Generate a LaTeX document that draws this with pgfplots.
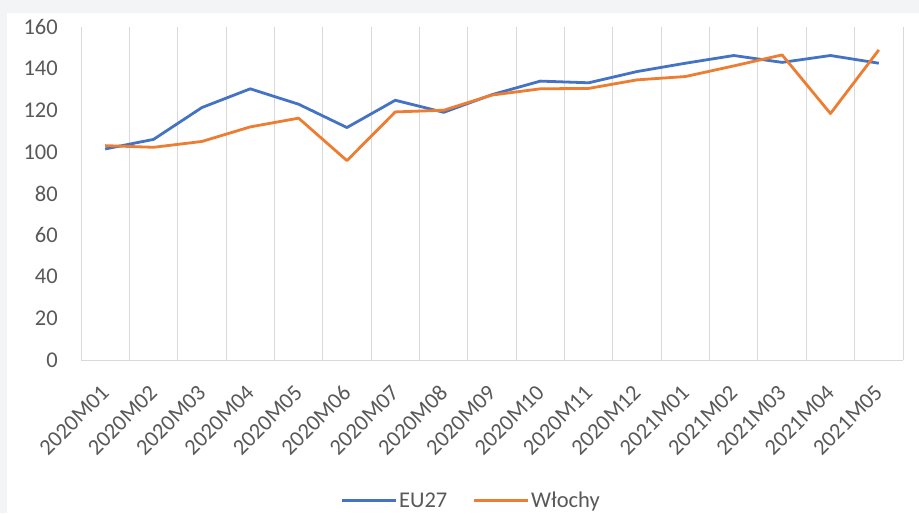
\documentclass[border=0pt]{standalone}
\usepackage{fontspec}
\setmainfont{Carlito}
\usepackage{pgfplots}
\pgfplotsset{compat=1.18}
\definecolor{bgc}{HTML}{F3F4F6}
\definecolor{gridc}{HTML}{D9D9D9}
\definecolor{txt}{HTML}{595959}
\definecolor{eublue}{HTML}{4472C4}
\definecolor{itorange}{HTML}{ED7D31}
\begin{document}
\begin{tikzpicture}[x=1pt,y=1pt]
\fill[bgc] (0,0) rectangle (919,513);
\fill[white] (7,0) rectangle (919,500);
\begin{axis}[
  at={(81pt,153pt)}, anchor=south west,
  scale only axis, width=822pt, height=333pt,
  xmin=0.5, xmax=17.5, ymin=0, ymax=160,
  axis x line*=bottom, axis y line*=left,
  x axis line style={draw=gridc, line width=1pt, -},
  y axis line style={draw=none},
  xtick={1,...,17},
  xticklabels={2020M01,2020M02,2020M03,2020M04,2020M05,2020M06,2020M07,2020M08,2020M09,2020M10,2020M11,2020M12,2021M01,2021M02,2021M03,2021M04,2021M05},
  minor xtick={0.5,1.5,...,17.5},
  xminorgrids=true, xmajorgrids=false,
  minor grid style={draw=gridc, line width=1pt},
  ytick={0,20,...,160},
  major tick length=0pt, minor tick length=0pt,
  tick style={draw=none},
  tick label style={text=txt, font=\fontsize{22.5}{27}\selectfont},
  /pgf/number format/assume math mode=true,
  yticklabel style={inner sep=0pt, anchor=east, xshift=-23pt},
  xticklabel style={inner sep=0pt, anchor=east, xshift=0pt, yshift=-29pt, rotate=45},
  legend style={draw=none, fill=none, at={(0.4745,-0.4225)}, anchor=center,
    legend columns=2, text=txt, font=\fontsize{22.5}{27}\selectfont,
    /tikz/every even column/.append style={column sep=23pt}},
  legend image code/.code={\draw[#1] (0pt,0pt) -- (54pt,0pt);},
  legend cell align=left,
  clip=false,
]
\addplot[eublue, line width=2.8pt, line join=round] coordinates {
(1,101.4) (2,106) (3,121.3) (4,130.3) (5,122.9) (6,111.7) (7,124.8) (8,119) (9,127.5) (10,134) (11,133.2) (12,138.6) (13,142.6) (14,146.3) (15,143) (16,146.3) (17,142.6)};
\addlegendentry{EU27}
\addplot[itorange, line width=2.8pt, line join=round] coordinates {
(1,103) (2,102.2) (3,105) (4,112) (5,116.2) (6,95.8) (7,119.2) (8,120) (9,127.3) (10,130.3) (11,130.5) (12,134.6) (13,136.2) (14,141.3) (15,146.6) (16,118.4) (17,149)};
\addlegendentry{Włochy}
\end{axis}
\end{tikzpicture}
\end{document}
